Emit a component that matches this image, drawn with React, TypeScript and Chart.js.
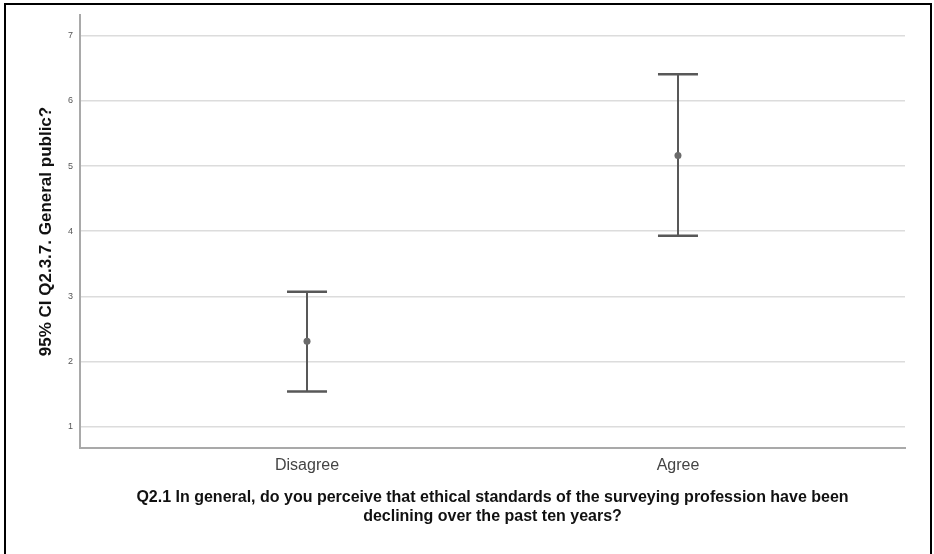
import React, { useEffect, useRef } from "react";
import { Chart, registerables } from "chart.js";

Chart.register(...registerables);

const categories = ["Disagree", "Agree"];
const means = [2.31, 5.16];
const lowerCI = [1.54, 3.93];
const upperCI = [3.07, 6.41];
const yTicks = [1, 2, 3, 4, 5, 6, 7];
const yTitle = "95% CI Q2.3.7. General public?";
const xTitle = [
  "Q2.1 In general, do you perceive that ethical standards of the surveying profession have been",
  "declining over the past ten years?",
];

const FONT = "'Liberation Sans', Arial, sans-serif";

const errorBarPlugin = {
  id: "errorBars",
  beforeDatasetsDraw(chart: any) {
    const { ctx, scales } = chart;
    const xs = scales.x;
    const ys = scales.y;
    ctx.save();
    ctx.strokeStyle = "#585858";
    categories.forEach((_, i) => {
      const x = xs.getPixelForValue(i);
      const yl = ys.getPixelForValue(lowerCI[i]);
      const yu = ys.getPixelForValue(upperCI[i]);
      ctx.lineWidth = 2;
      ctx.beginPath();
      ctx.moveTo(x, yl);
      ctx.lineTo(x, yu);
      ctx.stroke();
      ctx.lineWidth = 2.5;
      ctx.beginPath();
      ctx.moveTo(x - 20, yl);
      ctx.lineTo(x + 20, yl);
      ctx.moveTo(x - 20, yu);
      ctx.lineTo(x + 20, yu);
      ctx.stroke();
    });
    ctx.restore();
  },
};

export default function App() {
  const ref = useRef<HTMLCanvasElement>(null);
  useEffect(() => {
    if (!ref.current) return;
    const chart = new Chart(ref.current, {
      type: "scatter",
      data: {
        datasets: [
          {
            data: means.map((m, i) => ({ x: i, y: m })),
            pointRadius: 3.5,
            pointBackgroundColor: "#6b6b6b",
            pointBorderColor: "#6b6b6b",
            pointBorderWidth: 0,
            showLine: false,
          },
        ],
      },
      options: {
        responsive: false,
        animation: false,
        layout: { padding: { left: 31, right: 29, top: 15, bottom: 27.5 } },
        plugins: { legend: { display: false }, tooltip: { enabled: false } },
        scales: {
          x: {
            type: "linear",
            min: -0.612,
            max: 1.612,
            afterBuildTicks(scale: any) {
              scale.ticks = categories.map((_, i) => ({ value: i }));
            },
            afterFit(scale: any) {
              scale.height = 78.5;
            },
            grid: { display: false, drawTicks: false },
            border: { display: true, color: "#a9a9a9", width: 2 },
            ticks: {
              padding: 8,
              color: "#444444",
              font: { family: FONT, size: 16 },
              callback: (v: any) => categories[v] ?? "",
            },
            title: {
              display: true,
              text: xTitle,
              color: "#111111",
              font: { family: FONT, size: 16, weight: "bold", lineHeight: 19 / 16 },
              padding: { top: 0, bottom: 0 },
            },
          },
          y: {
            min: 0.673,
            max: 7.318,
            afterBuildTicks(scale: any) {
              scale.ticks = yTicks.map((v) => ({ value: v }));
            },
            afterFit(scale: any) {
              scale.width = 49;
            },
            grid: { color: "#dcdcdc", lineWidth: 1.5, drawTicks: false },
            border: { display: true, color: "#a9a9a9", width: 2 },
            ticks: {
              padding: 7,
              color: "#555555",
              font: { family: FONT, size: 9 },
            },
            title: {
              display: true,
              text: yTitle,
              color: "#111111",
              font: { family: FONT, size: 17, weight: "bold", lineHeight: 1.2 },
              padding: { top: 5, bottom: 0 },
            },
          },
        },
      },
      plugins: [errorBarPlugin],
    } as any);
    return () => chart.destroy();
  }, []);
  return (
    <div
      style={{
        position: "fixed",
        left: 0,
        top: 0,
        width: 934,
        height: 554,
        overflow: "hidden",
        background: "#ffffff",
      }}
    >
      <canvas ref={ref} width={934} height={554} style={{ display: "block" }} />
      <div
        style={{
          position: "absolute",
          left: 4,
          top: 3,
          width: 928,
          height: 600,
          border: "2px solid #000",
          boxSizing: "border-box",
          pointerEvents: "none",
        }}
      />
    </div>
  );
}
